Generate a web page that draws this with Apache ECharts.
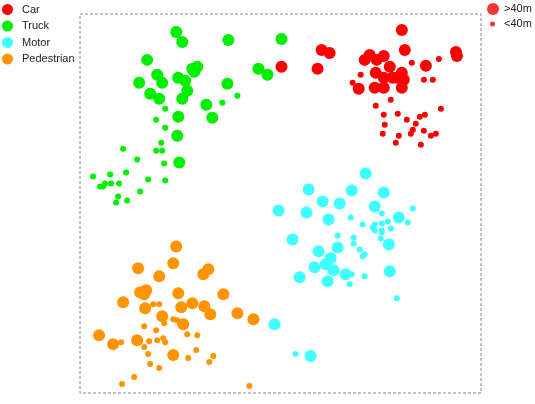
<!DOCTYPE html>
<html>
<head>
<meta charset="utf-8">
<script src="https://cdn.jsdelivr.net/npm/echarts@6/dist/echarts.min.js"></script>
<style>html,body{margin:0;padding:0;background:#fff;}#c{width:535px;height:404px;}</style>
</head>
<body>
<div id="c"></div>
<script>
var categories = ['Car', 'Truck', 'Motor', 'Pedestrian'];
var sizeLabels = ['>40m', '<40m'];
var colors = ['#ff0000', '#00ee00', '#40ffff', '#ff9400'];

// [x, y] in data units (x: 0..400, y: 0..380)
var carFar = [[201,327],[241,344],[249,341],[237,325],[321,364],[324,344],[375,342],[376,338],[289,339],[284,334],[296,334],[303,338],[309,327],[295,321],[345,328],[321,321],[303,316],[312,316],[317,316],[323,314],[294,306],[303,306],[321,306],[278,305]];
var carNear = [[331,331],[358,335],[280,319],[272,311],[343,314],[352,314],[310,294],[295,288],[360,285],[303,279],[317,280],[326,274],[339,277],[344,279],[335,270],[304,269],[332,264],[343,263],[330,260],[355,260],[350,258],[302,260],[318,258],[315,251],[340,249]];
var truckFar = [[96,362],[102,352],[148,354],[201,355],[67,334],[77,319],[59,311],[82,311],[70,300],[79,295],[98,316],[105,313],[112,325],[117,327],[114,322],[107,303],[102,295],[147,310],[126,289],[132,276],[98,277],[97,258],[99,231],[178,325],[187,319]];
var truckNear = [[157,298],[142,291],[85,285],[76,274],[85,266],[81,251],[76,243],[82,243],[43,245],[57,234],[84,230],[46,221],[30,219],[13,217],[39,210],[31,210],[25,210],[23,207],[20,207],[68,214],[85,213],[60,202],[38,197],[36,191],[47,193]];
var motorFar = [[285,220],[228,204],[271,203],[303,201],[242,192],[259,190],[198,183],[226,181],[294,187],[248,174],[318,176],[212,154],[308,149],[238,142],[257,146],[250,135],[245,129],[234,126],[253,123],[265,119],[219,116],[247,112],[309,122],[194,69],[230,37]];
var motorNear = [[332,185],[301,180],[270,176],[327,171],[282,169],[294,169],[301,170],[307,172],[292,166],[294,163],[301,163],[301,161],[310,165],[257,158],[273,156],[273,150],[300,155],[279,144],[284,139],[282,137],[271,119],[284,117],[269,109],[316,95],[215,39]];
var pedFar = [[96,147],[93,130],[58,125],[128,124],[123,119],[79,117],[60,101],[66,103],[64,99],[98,100],[143,99],[43,91],[65,85],[101,86],[112,90],[124,87],[130,79],[82,77],[157,80],[173,74],[103,69],[19,58],[33,49],[57,53],[93,38]];
var pedNear = [[73,89],[79,89],[93,74],[97,73],[84,70],[64,67],[76,63],[107,59],[117,58],[41,51],[69,52],[77,53],[83,55],[85,51],[64,46],[68,39],[116,43],[108,35],[133,37],[129,31],[70,29],[79,25],[54,16],[42,9],[169,7]];

var groups = [[carFar, carNear], [truckFar, truckNear], [motorFar, motorNear], [pedFar, pedNear]];
var BIG = 12, SMALL = 6;

var series = categories.map(function (name, i) {
  var data = [];
  groups[i][0].forEach(function (p) { data.push([p[0], p[1], 1]); });
  groups[i][1].forEach(function (p) { data.push([p[0], p[1], 0]); });
  return {
    name: name,
    type: 'scatter',
    data: data,
    symbolSize: function (v) { return v[2] ? BIG : SMALL; },
    itemStyle: { color: colors[i], opacity: 1 },
    emphasis: { disabled: true }
  };
});
sizeLabels.forEach(function (name) {
  series.push({ name: name, type: 'scatter', data: [], itemStyle: { color: '#ff0000' } });
});

var textStyle = { fontFamily: 'Liberation Sans, Arial, sans-serif', fontSize: 11, color: '#222' };

var chart = echarts.init(document.getElementById('c'), null, { renderer: 'canvas' });
chart.setOption({
  animation: false,
  backgroundColor: '#fff',
  legend: [
    {
      data: categories, orient: 'vertical', left: 2, top: 4, padding: 0,
      icon: 'circle', itemWidth: 11, itemHeight: 11, itemGap: 5.5,
      textStyle: Object.assign({ padding: [0, 0, 0, 4] }, textStyle)
    },
    {
      data: [sizeLabels[0]], left: 487, top: 3, padding: 0,
      icon: 'circle', itemWidth: 12, itemHeight: 12,
      textStyle: Object.assign({ padding: [0, 0, 0, 0] }, textStyle)
    },
    {
      data: [sizeLabels[1]], left: 490, top: 18.5, padding: 0,
      icon: 'circle', itemWidth: 5, itemHeight: 5,
      textStyle: Object.assign({ padding: [0, 0, 0, 4] }, textStyle)
    }
  ],
  grid: {
    show: true, left: 80, top: 14, right: 54, bottom: 11,
    borderColor: '#888', borderWidth: 1, borderType: [3, 2],
    backgroundColor: 'transparent'
  },
  xAxis: {
    type: 'value', min: 0, max: 400,
    axisLine: { show: false }, axisTick: { show: false },
    axisLabel: { show: false }, splitLine: { show: false }
  },
  yAxis: {
    type: 'value', min: 0, max: 380,
    axisLine: { show: false }, axisTick: { show: false },
    axisLabel: { show: false }, splitLine: { show: false }
  },
  series: series
});
</script>
</body>
</html>
